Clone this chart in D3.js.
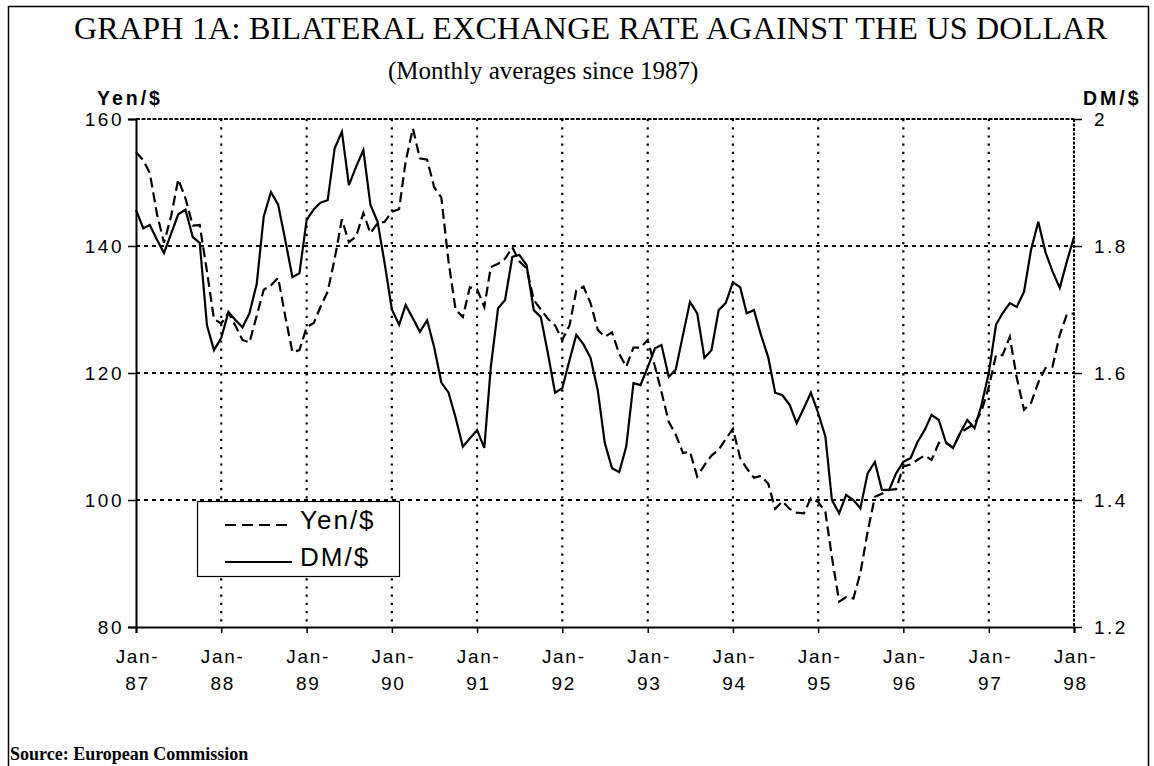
<!DOCTYPE html>
<html>
<head>
<meta charset="utf-8">
<script src="https://cdn.jsdelivr.net/npm/d3@7"></script>
<style>
  body { margin: 0; background: #fff; }
  text { fill: #000; }
</style>
</head>
<body>
<div id="chart"></div>
<script>
// monthly averages, Jan-87 .. Jan-98 (133 months)
var yenValues = [
  154.8, 153.5, 151.5, 145.0, 140.5, 144.8, 150.5, 147.5, 143.2, 143.3, 136.0, 128.5, // 1987
  127.8, 129.5, 127.5, 125.2, 124.8, 129.0, 133.1, 133.8, 135.0, 129.0, 123.3, 123.6, // 1988
  127.2, 127.9, 130.4, 132.8, 138.0, 144.2, 140.6, 141.5, 145.2, 142.0, 143.6, 143.8, // 1989
  145.4, 145.8, 153.3, 158.5, 153.8, 153.6, 149.3, 147.6, 137.5, 130.0, 128.8, 133.5, // 1990
  133.2, 130.4, 136.7, 137.2, 138.0, 139.8, 137.6, 136.5, 131.5, 130.0, 128.5, 127.5, // 1991
  125.2, 127.5, 133.0, 133.6, 131.0, 126.8, 125.7, 126.4, 123.0, 121.0, 124.0, 124.0, // 1992
  125.2, 121.0, 117.0, 112.3, 110.3, 107.4, 107.6, 103.7, 105.5, 107.0, 107.9, 109.6, // 1993
  111.2, 106.6, 105.0, 103.5, 103.8, 102.6, 98.6, 99.8, 98.6, 98.0, 97.9, 100.3,      // 1994
  99.7, 98.1, 91.0, 84.0, 84.7, 84.5, 88.5, 95.0, 100.5, 101.0, 101.6, 101.7,         // 1995
  105.3, 105.6, 106.3, 107.0, 106.3, 109.0, 109.0, 108.2, 110.6, 111.3, 112.0, 114.0, // 1996
  117.8, 122.8, 122.8, 125.7, 119.2, 114.2, 115.3, 118.5, 120.8, 121.0, 126.0, 129.2, // 1997
  129.4                                                                               // 1998
];
var dmValues = [
  1.857, 1.828, 1.833, 1.810, 1.789, 1.820, 1.850, 1.857, 1.814, 1.805, 1.675, 1.636, // 1987
  1.655, 1.696, 1.684, 1.672, 1.694, 1.740, 1.846, 1.885, 1.865, 1.810, 1.751, 1.757, // 1988
  1.841, 1.858, 1.868, 1.872, 1.954, 1.980, 1.896, 1.925, 1.951, 1.865, 1.838, 1.773, // 1989
  1.700, 1.676, 1.707, 1.686, 1.665, 1.683, 1.641, 1.585, 1.569, 1.530, 1.484, 1.497, // 1990
  1.510, 1.482, 1.610, 1.702, 1.715, 1.783, 1.786, 1.770, 1.699, 1.688, 1.630, 1.569, // 1991
  1.576, 1.620, 1.660, 1.645, 1.624, 1.573, 1.490, 1.450, 1.444, 1.484, 1.584, 1.581, // 1992
  1.609, 1.639, 1.644, 1.594, 1.605, 1.660, 1.712, 1.694, 1.624, 1.636, 1.699, 1.710, // 1993
  1.743, 1.735, 1.694, 1.699, 1.660, 1.625, 1.569, 1.565, 1.550, 1.521, 1.545, 1.569, // 1994
  1.537, 1.500, 1.400, 1.379, 1.408, 1.400, 1.387, 1.442, 1.460, 1.416, 1.416, 1.442, // 1995
  1.460, 1.466, 1.491, 1.510, 1.534, 1.526, 1.491, 1.482, 1.506, 1.526, 1.513, 1.550, // 1996
  1.600, 1.676, 1.694, 1.710, 1.704, 1.728, 1.794, 1.838, 1.790, 1.760, 1.734, 1.775, // 1997
  1.814                                                                               // 1998
];
var yearLabels = ["87", "88", "89", "90", "91", "92", "93", "94", "95", "96", "97", "98"];
var yenTicks = [80, 100, 120, 140, 160];
var dmTicks = [1.2, 1.4, 1.6, 1.8, 2.0];

var months = d3.timeMonth.range(new Date(1987, 0, 1), new Date(1998, 1, 1));
var years = yearLabels.map(function(d, i) { return new Date(1987 + i, 0, 1); });

var W = 1154, H = 766;
var plot = {left: 136, right: 1074, top: 119, bottom: 627};

var svg = d3.select("#chart").append("svg")
  .attr("width", W)
  .attr("height", H);

// outer frame
svg.append("rect")
  .attr("x", 8.5).attr("y", 6.5)
  .attr("width", 1140).attr("height", 780)
  .attr("fill", "none")
  .attr("stroke", "#000")
  .attr("stroke-width", 1.5);

var x = d3.scaleTime()
  .domain([months[0], months[months.length - 1]])
  .range([plot.left, plot.right]);
var yYen = d3.scaleLinear().domain([80, 160]).range([plot.bottom, plot.top]);
var yDm = d3.scaleLinear().domain([1.2, 2.0]).range([plot.bottom, plot.top]);

var sans = "'Liberation Sans', Arial, Helvetica, sans-serif";
var serif = "'Liberation Serif', 'Times New Roman', Times, serif";

// titles
svg.append("text")
  .attr("x", 74).attr("y", 39)
  .attr("textLength", 1033)
  .attr("lengthAdjust", "spacing")
  .style("font-family", serif)
  .style("font-size", "32px")
  .text("GRAPH 1A: BILATERAL EXCHANGE RATE AGAINST THE US DOLLAR");
svg.append("text")
  .attr("x", 388).attr("y", 79)
  .style("font-family", serif)
  .style("font-size", "25px")
  .text("(Monthly averages since 1987)");

svg.append("text")
  .attr("x", 97).attr("y", 105)
  .style("font-family", sans).style("font-size", "19.5px")
  .style("font-weight", "bold").style("letter-spacing", "3px")
  .text("Yen/$");
svg.append("text")
  .attr("x", 1083).attr("y", 105)
  .style("font-family", sans).style("font-size", "19.5px")
  .style("font-weight", "bold").style("letter-spacing", "3px")
  .text("DM/$");

// grid
var grid = svg.append("g");
grid.selectAll("line.h")
  .data([100, 120, 140])
  .enter().append("line")
  .attr("x1", plot.left).attr("x2", plot.right)
  .attr("y1", function(d) { return yYen(d); })
  .attr("y2", function(d) { return yYen(d); })
  .attr("stroke", "#000").attr("stroke-width", 2)
  .attr("stroke-dasharray", "4,4");
grid.selectAll("line.v")
  .data(years.slice(1, years.length - 1))
  .enter().append("line")
  .attr("x1", function(d) { return x(d); })
  .attr("x2", function(d) { return x(d); })
  .attr("y1", plot.top).attr("y2", plot.bottom)
  .attr("stroke", "#000").attr("stroke-width", 2.2)
  .attr("stroke-dasharray", "2.2,6");
// top and right edge of the plot
grid.append("line")
  .attr("x1", plot.left).attr("x2", plot.right)
  .attr("y1", plot.top).attr("y2", plot.top)
  .attr("stroke", "#000").attr("stroke-width", 2)
  .attr("stroke-dasharray", "4,1.5");
grid.append("line")
  .attr("x1", plot.right).attr("x2", plot.right)
  .attr("y1", plot.top).attr("y2", plot.bottom)
  .attr("stroke", "#000").attr("stroke-width", 2)
  .attr("stroke-dasharray", "3,1.5");

// axes
var leftAxis = svg.append("g")
  .attr("transform", "translate(" + plot.left + ",0)")
  .call(d3.axisLeft(yYen).tickValues(yenTicks).tickSize(8).tickPadding(4));
var rightAxis = svg.append("g")
  .attr("transform", "translate(" + plot.right + ",0)")
  .call(d3.axisRight(yDm).tickValues(dmTicks).tickSize(8).tickPadding(12)
    .tickFormat(function(d) { return d3.format("")(+d.toFixed(1)); }));
var bottomAxis = svg.append("g")
  .attr("transform", "translate(0," + plot.bottom + ")")
  .call(d3.axisBottom(x).tickValues(years).tickSize(6).tickFormat(""));

[leftAxis, rightAxis, bottomAxis].forEach(function(a) {
  a.select(".domain").attr("stroke", "#000").attr("stroke-width", 2);
  a.selectAll(".tick line").attr("stroke", "#000").attr("stroke-width", 1.5);
});
rightAxis.select(".domain").remove();
leftAxis.selectAll("text")
  .style("font-family", sans).style("font-size", "19px")
  .style("letter-spacing", "2.5px").attr("fill", "#000");
rightAxis.selectAll("text")
  .style("font-family", sans).style("font-size", "19px")
  .style("letter-spacing", "2.5px").attr("fill", "#000");

// two-line x tick labels
var xl = bottomAxis.selectAll(".tick").append("text")
  .attr("text-anchor", "middle")
  .style("font-family", sans).style("font-size", "19px")
  .style("letter-spacing", "1.7px")
  .attr("fill", "#000");
xl.append("tspan").attr("x", 1).attr("y", 36).text("Jan-");
xl.append("tspan").attr("x", 1).attr("y", 63)
  .text(function(d, i) { return yearLabels[i]; });

// series
var lineYen = d3.line()
  .x(function(d, i) { return x(months[i]); })
  .y(function(d) { return yYen(d); });
var lineDm = d3.line()
  .x(function(d, i) { return x(months[i]); })
  .y(function(d) { return yDm(d); });

svg.append("path")
  .datum(yenValues)
  .attr("d", lineYen)
  .attr("fill", "none")
  .attr("stroke", "#000")
  .attr("stroke-width", 2.2)
  .attr("stroke-dasharray", "10,5");
svg.append("path")
  .datum(dmValues)
  .attr("d", lineDm)
  .attr("fill", "none")
  .attr("stroke", "#000")
  .attr("stroke-width", 2.2)
  .attr("stroke-linejoin", "miter");

// legend
var legend = svg.append("g");
legend.append("rect")
  .attr("x", 197.5).attr("y", 501.5)
  .attr("width", 202).attr("height", 75)
  .attr("fill", "#fff").attr("stroke", "#000").attr("stroke-width", 1.2);
legend.append("line")
  .attr("x1", 225).attr("x2", 292).attr("y1", 525).attr("y2", 525)
  .attr("stroke", "#000").attr("stroke-width", 2)
  .attr("stroke-dasharray", "11,6");
legend.append("line")
  .attr("x1", 225).attr("x2", 292).attr("y1", 562).attr("y2", 562)
  .attr("stroke", "#000").attr("stroke-width", 2);
legend.append("text")
  .attr("x", 300).attr("y", 529)
  .style("font-family", sans).style("font-size", "26px")
  .style("letter-spacing", "2px")
  .text("Yen/$");
legend.append("text")
  .attr("x", 300).attr("y", 566)
  .style("font-family", sans).style("font-size", "26px")
  .style("letter-spacing", "2px")
  .text("DM/$");

// source note
svg.append("text")
  .attr("x", 10).attr("y", 760)
  .style("font-family", serif).style("font-size", "18px")
  .style("font-weight", "bold")
  .text("Source: European Commission");
</script>
</body>
</html>
